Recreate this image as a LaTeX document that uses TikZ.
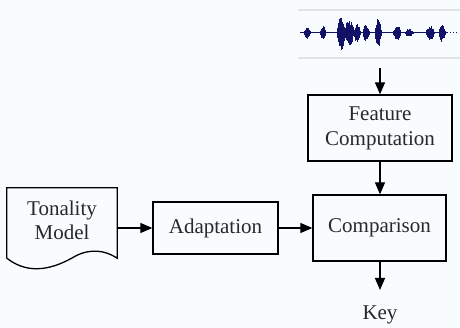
\documentclass[tikz,border=0pt]{standalone}
\usepackage{fontspec}
\setmainfont{Liberation Serif}
\usetikzlibrary{arrows.meta,calc}
\definecolor{bgc}{RGB}{248,252,254}
\definecolor{wavec}{RGB}{18,18,105}
\definecolor{gridc}{RGB}{226,228,232}
\definecolor{txtc}{RGB}{40,40,40}
\newcommand\wburst[3]{%
  \pgfmathsetmacro\wsa{#1-#2}\pgfmathsetmacro\wsb{#1-#2+0.5}\pgfmathsetmacro\wsc{#1+#2}%
  \foreach \xx in {\wsa,\wsb,...,\wsc}{%
    \pgfmathsetmacro\wup{#3*(1-((\xx-#1)/#2)^2)*(0.55+0.45*rnd)}%
    \pgfmathsetmacro\wdn{#3*(1-((\xx-#1)/#2)^2)*(0.55+0.45*rnd)}%
    \draw[wave] (\xx,33-\wup) -- (\xx,33+\wdn);}}
\begin{document}
\begin{tikzpicture}[x=1pt,y=-1pt,
  font=\fontsize{21}{25}\selectfont, text=txtc,
  boxline/.style={draw=black, line width=1.3pt},
  blk/.style={boxline, align=center, inner sep=0pt},
  arr/.style={line width=1.2pt, -{Triangle[length=12pt,width=10pt]}},
  wave/.style={draw=wavec, line width=1pt}]
\fill[bgc] (0,0) rectangle (460,328);
\useasboundingbox (0,0) rectangle (460,328);
% waveform
\draw[gridc, line width=1.2pt] (298,10) -- (460,10);
\draw[gridc, line width=1.2pt] (298,58) -- (460,58);
\draw[wavec, line width=1pt] (300,33) -- (447,33);
\draw[wavec, line width=1pt, dotted] (447,33) -- (458,33);
\pgfmathsetseed{11}
\wburst{307}{3.5}{6}
\wburst{323}{3}{8}
\wburst{341}{4.5}{18}
\wburst{349}{5.5}{13}
\wburst{357}{3.5}{10}
\wburst{366}{3.5}{9}
\wburst{378}{3.5}{15}
\wburst{397}{4}{8}
\wburst{409}{4.5}{4}
\wburst{430}{4.5}{8}
\wburst{442}{3.5}{9}
\coordinate (wv) at (380,68);
% blocks
\node[blk, minimum width=144pt, minimum height=66pt] (fc) at (380,128) {Feature\\Computation};
\node[blk, minimum width=133pt, minimum height=66pt] (cmp) at (379.5,228) {Comparison};
\node[blk, minimum width=125pt, minimum height=52pt] (ad) at (215.5,228) {Adaptation};
\node[inner sep=0pt, minimum width=110pt, minimum height=70pt] (tm) at (62,223)
  {\raisebox{5pt}{\renewcommand\arraystretch{0.95}\begin{tabular}{@{}c@{}}Tonality\\Model\end{tabular}}};
\draw[boxline, line join=miter] (tm.south west) -- (tm.north west) -- (tm.north east) -- (tm.south east)
  .. controls ([xshift=-12pt,yshift=8pt]tm.south east) and ([xshift=-27pt,yshift=10pt]tm.south east)
  .. ([xshift=-42pt,yshift=2pt]tm.south east)
  .. controls ([xshift=48pt,yshift=-10pt]tm.south west) and ([xshift=23pt,yshift=-18pt]tm.south west)
  .. (tm.south west);
\node[inner xsep=0pt, inner ysep=16pt, anchor=north] (key) at (380,290) {Key};
% connectors
\draw[arr] (wv) -- (fc.north);
\draw[arr] (fc.south) -- (fc.south |- cmp.north);
\draw[arr] (tm.east |- ad.west) -- (ad.west);
\draw[arr] (ad.east) -- (cmp.west);
\draw[arr] (cmp.south -| key.north) -- (key.north);
\end{tikzpicture}
\end{document}
